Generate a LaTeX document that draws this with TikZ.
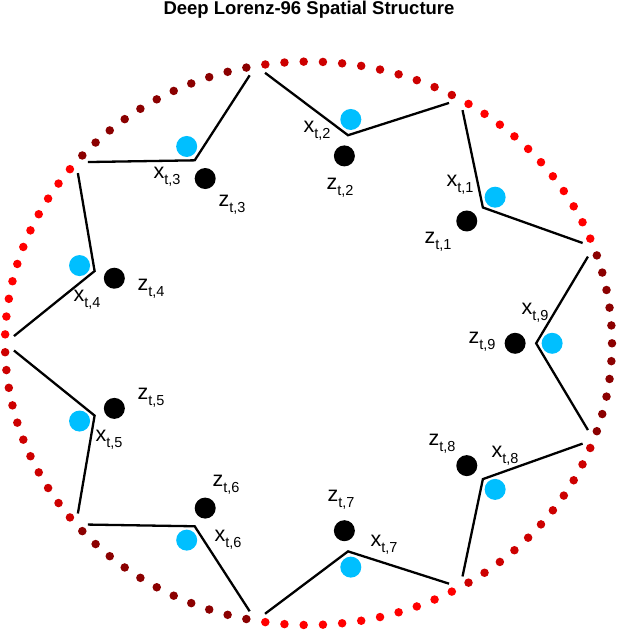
\documentclass[tikz,border=0pt]{standalone}
\usepackage{fontspec}
\setmainfont{Liberation Sans}
\usetikzlibrary{calc}
\definecolor{dotA}{HTML}{FF0000}
\definecolor{dotB}{HTML}{CD0000}
\definecolor{dotC}{HTML}{8B0000}
\definecolor{xcyan}{HTML}{00BFFF}
\newcommand{\lbl}[2]{#1\raisebox{-0.5ex}{\fontsize{14.5}{14.5}\selectfont t,#2}}
\begin{document}
\begin{tikzpicture}[x=1pt,y=-1pt,
  ring/.style={circle,inner sep=0pt,minimum size=8.5pt},
  xdot/.style={circle,fill=xcyan,inner sep=0pt,minimum size=21pt},
  zdot/.style={circle,fill=black,inner sep=0pt,minimum size=21pt},
  edge/.style={line width=2.3pt},
  lab/.style={font=\fontsize{21.5}{21.5}\selectfont,inner sep=0pt}]
\useasboundingbox (0,0) rectangle (618,632);
\node[font=\bfseries\fontsize{18.5}{18.5}\selectfont] (title) at (309,10) {Deep Lorenz-96 Spatial Structure};
\def\cx{308.5}\def\cy{343.3}\def\rx{303.5}\def\ry{281.7}
\foreach \k in {0,...,98}{
  \pgfmathsetmacro\ang{20+(\k+0.5)*40/11}
  \pgfmathtruncatemacro\arc{mod(floor(\k/11),3)}
  \ifcase\arc \def\col{dotA}\or \def\col{dotB}\or \def\col{dotC}\fi
  \node[ring,fill=\col] (d\k) at ({\cx+\rx*cos(\ang)},{\cy-\ry*sin(\ang)}) {};
}
\foreach \j in {0,...,8}{
  \coordinate (o\j) at ({\cx+\rx*cos(20+40*\j)},{\cy-\ry*sin(20+40*\j)});
}
\foreach \i in {1,...,9}{
  \coordinate (c\i) at ({\cx+0.75*\rx*cos(40*\i)},{\cy-0.75*\ry*sin(40*\i)});
}
\foreach \i in {1,...,9}{
  \pgfmathtruncatemacro\a{\i-1}
  \pgfmathtruncatemacro\b{mod(\i,9)}
  \draw[edge] ($(c\i)!0.9!(o\a)$) -- (c\i) -- ($(c\i)!0.9!(o\b)$);
}
\foreach \i in {1,...,9}{
  \node[xdot] (x\i) at ({\cx+(0.75*\rx+16)*cos(40*\i)},{\cy-(0.75*\ry+16)*sin(40*\i)}) {};
  \node[zdot] (z\i) at ({\cx+(0.75*\rx-21)*cos(40*\i)},{\cy-(0.75*\ry-21)*sin(40*\i)}) {};
}
\node[lab] (lx1) at (460,185) {\lbl{x}{1}};
\node[lab] (lz1) at (438,242) {\lbl{z}{1}};
\node[lab] (lx2) at (317,131) {\lbl{x}{2}};
\node[lab] (lz2) at (340,188) {\lbl{z}{2}};
\node[lab] (lx3) at (167,177) {\lbl{x}{3}};
\node[lab] (lz3) at (232,205) {\lbl{z}{3}};
\node[lab] (lx4) at (87,300) {\lbl{x}{4}};
\node[lab] (lz4) at (151,289) {\lbl{z}{4}};
\node[lab] (lx5) at (109,440) {\lbl{x}{5}};
\node[lab] (lz5) at (151,398) {\lbl{z}{5}};
\node[lab] (lx6) at (228,540) {\lbl{x}{6}};
\node[lab] (lz6) at (226,485) {\lbl{z}{6}};
\node[lab] (lx7) at (384,545) {\lbl{x}{7}};
\node[lab] (lz7) at (341,500) {\lbl{z}{7}};
\node[lab] (lx8) at (505,456) {\lbl{x}{8}};
\node[lab] (lz8) at (442,444) {\lbl{z}{8}};
\node[lab] (lx9) at (535,313) {\lbl{x}{9}};
\node[lab] (lz9) at (482,342) {\lbl{z}{9}};
\end{tikzpicture}
\end{document}
